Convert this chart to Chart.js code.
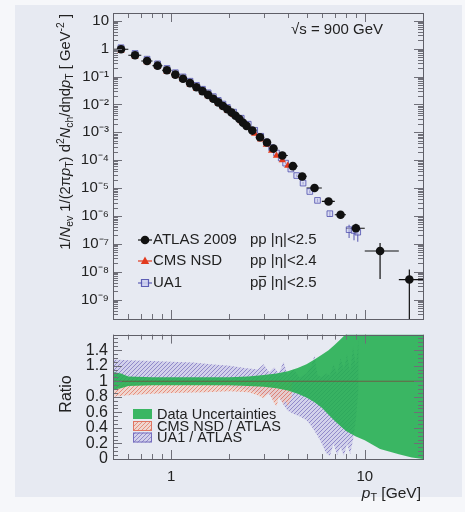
<!DOCTYPE html>
<html>
<head>
<meta charset="utf-8">
<script src="https://cdn.jsdelivr.net/npm/chart.js@4.4.1/dist/chart.umd.min.js"></script>
<style>
  html, body { margin: 0; padding: 0; background: #f6f7fa; }
  #panel { position: absolute; left: 15px; top: 5px; width: 447px; height: 492px; background: #e7eaf2; }
  canvas { position: absolute; left: 0; }
  #top { top: 0; }
  #bot { top: 320px; }
</style>
</head>
<body>
<div id="panel"></div>
<canvas id="top" width="465" height="332"></canvas>
<canvas id="bot" width="465" height="192"></canvas>
<script>
// ---- spectrum data (pT in GeV, 1/Nev dN/... in GeV^-2) ----
const atlasPt = [0.55, 0.65, 0.75, 0.85, 0.95, 1.05, 1.15, 1.25, 1.35, 1.45, 1.55, 1.65, 1.75, 1.85, 1.95, 2.05, 2.15, 2.25, 2.35, 2.45,
                 2.625, 2.875, 3.125, 3.375, 3.75, 4.25, 4.75, 5.5, 6.5, 7.5, 9, 12, 17];
const atlasEdges = [0.5, 0.6, 0.7, 0.8, 0.9, 1.0, 1.1, 1.2, 1.3, 1.4, 1.5, 1.6, 1.7, 1.8, 1.9, 2.0, 2.1, 2.2, 2.3, 2.4, 2.5,
                    2.75, 3, 3.25, 3.5, 4, 4.5, 5, 6, 7, 8, 10, 15, 20];
const atlasVal = [0.95, 0.58, 0.36, 0.245, 0.167, 0.117, 0.083, 0.058, 0.041, 0.030, 0.022, 0.0159, 0.0118, 0.0088, 0.0067, 0.0051, 0.0039, 0.0030, 0.0022, 0.0017,
                  0.00115, 6.6e-4, 4.3e-4, 2.6e-4, 1.47e-4, 6.1e-5, 2.6e-5, 1.0e-5, 3.3e-6, 1.1e-6, 3.6e-7, 5.5e-8, 5.2e-9];
const atlasErrUp = [0.06, 0.04, 0.04, 0.04, 0.04, 0.04, 0.04, 0.04, 0.04, 0.04, 0.04, 0.04, 0.04, 0.04, 0.04, 0.04, 0.04, 0.04, 0.04, 0.04,
                    0.05, 0.05, 0.05, 0.06, 0.07, 0.08, 0.1, 0.15, 0.2, 0.35, 0.45, 0.95, 1.3];
const atlasErrDn = [0.06, 0.04, 0.04, 0.04, 0.04, 0.04, 0.04, 0.04, 0.04, 0.04, 0.04, 0.04, 0.04, 0.04, 0.04, 0.04, 0.04, 0.04, 0.04, 0.04,
                    0.05, 0.05, 0.05, 0.06, 0.07, 0.08, 0.1, 0.15, 0.2, 0.3, 0.4, 0.9, 1.0];

const cmsPt = [0.55, 0.65, 0.75, 0.85, 0.95, 1.05, 1.15, 1.25, 1.35, 1.45, 1.55, 1.65, 1.75, 1.85, 1.95, 2.1, 2.3, 2.5, 2.7, 2.9, 3.1, 3.3, 3.5, 3.75, 4.0];
const cmsVal = [0.84, 0.52, 0.325, 0.222, 0.151, 0.106, 0.075, 0.052, 0.037, 0.027, 0.0198, 0.0144, 0.0107, 0.0080, 0.0061, 0.0042, 0.0025, 0.00148,
                8.9e-4, 5.5e-4, 3.6e-4, 2.2e-4, 1.45e-4, 1.0e-4, 6.3e-5];

const ua1Pt = [0.55, 0.65, 0.75, 0.85, 0.95, 1.05, 1.15, 1.25, 1.35, 1.45, 1.55, 1.65, 1.75, 1.85, 1.95, 2.1, 2.3, 2.5, 2.7, 2.9,
               3.1, 3.3, 3.5, 3.7, 3.9, 4.15, 4.45, 4.8, 5.2, 5.7, 6.6, 8.3, 8.8, 9.2];
const ua1Val = [1.08, 0.67, 0.42, 0.285, 0.195, 0.137, 0.097, 0.068, 0.048, 0.035, 0.026, 0.019, 0.0139, 0.0103, 0.0078, 0.0053, 0.0032, 0.00195, 0.00118, 7.2e-4,
                4.5e-4, 2.8e-4, 1.8e-4, 1.2e-4, 7.8e-5, 4.8e-5, 2.8e-5, 1.5e-5, 7.5e-6, 3.6e-6, 1.2e-6, 3.2e-7, 3.0e-7, 2.6e-7];
const ua1Err = [0.05, 0.05, 0.05, 0.05, 0.05, 0.05, 0.05, 0.05, 0.05, 0.05, 0.05, 0.05, 0.05, 0.05, 0.05, 0.05, 0.05, 0.05, 0.05, 0.05,
                0.06, 0.06, 0.07, 0.07, 0.08, 0.08, 0.1, 0.1, 0.12, 0.15, 0.2, 0.5, 0.55, 0.55];

// ---- ratio panel bands ----
const dataUncPt = [0.5, 0.55, 0.6, 0.8, 1, 1.5, 2, 2.5, 3, 3.5, 4, 4.5, 5, 5.5, 6, 6.5, 7, 7.5, 8, 9, 10, 12, 15, 17.5, 20];
const dataUncLo = [0.89, 0.91, 0.94, 0.95, 0.95, 0.95, 0.95, 0.94, 0.93, 0.91, 0.88, 0.84, 0.79, 0.73, 0.66, 0.57, 0.49, 0.42, 0.36, 0.29, 0.24, 0.13, 0.06, 0.02, 0];
const dataUncHi = [1.12, 1.10, 1.06, 1.05, 1.05, 1.05, 1.05, 1.06, 1.08, 1.10, 1.13, 1.17, 1.22, 1.28, 1.34, 1.40, 1.47, 1.54, 1.61, 1.75, 1.9, 2, 2, 2, 2];

const cmsRatioPt = [0.5, 0.6, 0.8, 1.0, 1.5, 2.0, 2.5, 2.8, 3.0, 3.2, 3.4, 3.5, 3.6, 3.8, 3.9, 4.0, 4.2];
const cmsRatioLo = [0.80, 0.82, 0.84, 0.85, 0.86, 0.87, 0.86, 0.82, 0.78, 0.85, 0.72, 0.68, 0.80, 0.70, 0.75, 0.68, 0.80];
const cmsRatioHi = [0.97, 0.97, 0.97, 0.97, 0.98, 0.99, 1.00, 1.00, 1.02, 1.00, 0.98, 0.95, 1.00, 0.97, 1.03, 0.98, 1.00];

const ua1RatioPt = [0.5, 0.6, 0.8, 1.0, 1.3, 1.6, 2.0, 2.4, 2.8, 3.0, 3.2, 3.4, 3.6, 3.8, 4.0, 4.3, 4.6, 5.0, 5.3, 5.5, 5.7, 6.0, 6.3, 6.6, 6.9, 7.2, 7.5, 7.8, 8.1, 8.4, 8.7, 9.0, 9.3];
const ua1RatioHi = [1.28, 1.27, 1.26, 1.25, 1.24, 1.22, 1.20, 1.17, 1.15, 1.22, 1.12, 1.18, 1.10, 1.25, 1.08, 1.15, 1.05, 1.10, 1.20, 1.33, 1.08, 1.05, 1.10, 1.08, 1.22, 1.10, 1.30, 1.15, 1.35, 1.12, 1.45, 1.20, 1.55];
const ua1RatioLo = [0.98, 0.98, 0.98, 0.97, 0.96, 0.95, 0.93, 0.90, 0.86, 0.82, 0.84, 0.75, 0.80, 0.70, 0.62, 0.58, 0.55, 0.50, 0.42, 0.36, 0.30, 0.20, 0.08, 0.04, 0.20, 0.05, 0.15, 0.04, 0.20, 0.06, 0.25, 0.50, 0.90];

const unityPt = [0.5, 20];
const unityVal = [1, 1];

// ---- axis labels ----
const yDecades = [10, 1, 1e-1, 1e-2, 1e-3, 1e-4, 1e-5, 1e-6, 1e-7, 1e-8, 1e-9];
const xLabelVals = [1, 10];
const ratioTicks = [0, 0.2, 0.4, 0.6, 0.8, 1, 1.2, 1.4];
const topLegendNames = ['ATLAS 2009', 'CMS NSD', 'UA1'];
const bandLegendNames = ['Data Uncertainties', 'CMS NSD / ATLAS', 'UA1 / ATLAS'];

const FONT = "'Liberation Sans', Arial, Helvetica, sans-serif";
const INK = '#222';
const GREEN = 'rgba(34,174,78,0.88)';

function hatch(bg, line) {
  const c = document.createElement('canvas');
  c.width = 4; c.height = 4;
  const g = c.getContext('2d');
  g.fillStyle = bg; g.fillRect(0, 0, 4, 4);
  g.strokeStyle = line; g.lineWidth = 1;
  g.beginPath();
  g.moveTo(0, 4); g.lineTo(4, 0);
  g.moveTo(-2, 2); g.lineTo(2, -2);
  g.moveTo(2, 6); g.lineTo(6, 2);
  g.stroke();
  return g.createPattern(c, 'repeat');
}
const salmonHatch = hatch('rgba(246,196,180,0.55)', 'rgba(226,118,96,0.75)');
const lavenderHatch = hatch('rgba(196,192,230,0.6)', 'rgba(118,108,188,0.7)');

const supMap = { '-': '\u207B', '0': '\u2070', '1': '\u00B9', '2': '\u00B2', '3': '\u00B3', '4': '\u2074', '5': '\u2075', '6': '\u2076', '7': '\u2077', '8': '\u2078', '9': '\u2079' };
function decLabel(v) {
  const e = Math.round(Math.log10(v));
  if (e === 0) return '1';
  if (e === 1) return '10';
  return '10' + String(e).split('').map(c => supMap[c]).join('');
}

// text with sub/superscripts; runs = [[text, kind]]
function drawRich(ctx, runs, x, y, size, align) {
  const fontFor = k => {
    const small = (k === 'sub' || k === 'sup' || k === 'isub');
    const it = (k === 'i' || k === 'isub') ? 'italic ' : '';
    return it + (small ? size * 0.7 : size) + 'px ' + FONT;
  };
  let w = 0;
  runs.forEach(([t, k]) => { ctx.font = fontFor(k); w += ctx.measureText(t).width; });
  let cx = align === 'right' ? x - w : align === 'center' ? x - w / 2 : x;
  runs.forEach(([t, k]) => {
    ctx.font = fontFor(k);
    const dy = k === 'sup' ? -size * 0.38 : (k === 'sub' || k === 'isub') ? size * 0.22 : 0;
    ctx.fillText(t, cx, y + dy);
    cx += ctx.measureText(t).width;
  });
  return w;
}

function logTickList(lo, hi) {
  const out = [];
  for (let e = Math.floor(Math.log10(lo)); e <= Math.ceil(Math.log10(hi)); e++) {
    for (let m = 1; m < 10; m++) {
      const v = m * Math.pow(10, e);
      if (v >= lo * 0.999 && v <= hi * 1.001) out.push([v, m === 1 ? 9 : 5]);
    }
  }
  return out;
}
const xTickList = logTickList(0.5, 20);

// inward ROOT-style ticks on all four sides plus the frame
function frameTicks(yTicks, drawTop, drawBottom) {
  return {
    id: 'frameTicks',
    afterDatasetsDraw(chart) {
      const { ctx, chartArea: a, scales: { x, y } } = chart;
      ctx.save();
      ctx.strokeStyle = '#6f6f78';
      ctx.lineWidth = 1;
      ctx.beginPath();
      xTickList.forEach(([v, len]) => {
        const p = Math.round(x.getPixelForValue(v)) + 0.5;
        if (drawBottom) { ctx.moveTo(p, a.bottom); ctx.lineTo(p, a.bottom - len); }
        if (drawTop) { ctx.moveTo(p, a.top); ctx.lineTo(p, a.top + len); }
      });
      yTicks.forEach(([v, len]) => {
        const p = Math.round(y.getPixelForValue(v)) + 0.5;
        if (p < a.top - 1 || p > a.bottom + 1) return;
        ctx.moveTo(a.left, p); ctx.lineTo(a.left + len, p);
        ctx.moveTo(a.right, p); ctx.lineTo(a.right - len, p);
      });
      ctx.stroke();
      ctx.strokeStyle = '#5f5f68';
      ctx.strokeRect(Math.round(a.left) + 0.5, Math.round(a.top) + 0.5, Math.round(a.right - a.left), Math.round(a.bottom - a.top));
      ctx.restore();
    }
  };
}

const errorBars = {
  id: 'errorBars',
  beforeDatasetsDraw(chart) {
    const { ctx, chartArea: a, scales: { x, y } } = chart;
    ctx.save();
    ctx.beginPath();
    ctx.rect(a.left, a.top, a.right - a.left, a.bottom - a.top);
    ctx.clip();
    chart.data.datasets.forEach(ds => {
      if (!ds.errUp) return;
      ctx.strokeStyle = ds.errColor;
      ctx.lineWidth = 1.2;
      ds.data.forEach((p, i) => {
        const px = x.getPixelForValue(p.x);
        const hi = p.y * (1 + ds.errUp[i]);
        const lo = Math.max(p.y * (1 - ds.errDn[i]), y.min);
        ctx.beginPath();
        ctx.moveTo(px, y.getPixelForValue(hi));
        ctx.lineTo(px, y.getPixelForValue(lo));
        if (ds.xEdges) {
          const py = y.getPixelForValue(p.y);
          ctx.moveTo(x.getPixelForValue(ds.xEdges[i]), py);
          ctx.lineTo(x.getPixelForValue(ds.xEdges[i + 1]), py);
        }
        ctx.stroke();
      });
    });
    ctx.restore();
  }
};

function marker(ctx, style, x, y) {
  ctx.save();
  ctx.lineWidth = 1.2;
  ctx.beginPath();
  ctx.moveTo(x - 7, y); ctx.lineTo(x + 7, y);
  ctx.strokeStyle = style === 'ua1' ? 'rgba(70,70,170,0.85)' : style === 'cms' ? '#e23a1e' : '#111';
  ctx.stroke();
  ctx.beginPath();
  if (style === 'atlas') {
    ctx.fillStyle = '#111';
    ctx.arc(x, y, 4.3, 0, Math.PI * 2); ctx.fill();
  } else if (style === 'cms') {
    ctx.fillStyle = '#e23a1e';
    ctx.moveTo(x, y - 4.5); ctx.lineTo(x + 4.2, y + 3); ctx.lineTo(x - 4.2, y + 3); ctx.closePath(); ctx.fill();
  } else {
    ctx.fillStyle = 'rgba(205,208,240,0.9)';
    ctx.rect(x - 3.5, y - 3.5, 7, 7); ctx.fill(); ctx.stroke();
  }
  ctx.restore();
}

const topText = {
  id: 'topText',
  afterDraw(chart) {
    const ctx = chart.ctx;
    ctx.save();
    ctx.fillStyle = INK;
    ctx.textBaseline = 'alphabetic';
    // y-axis title, rotated
    ctx.translate(70, 14);
    ctx.rotate(-Math.PI / 2);
    drawRich(ctx, [['1/', 'n'], ['N', 'i'], ['ev', 'sub'], [' 1/(2\u03C0', 'n'], ['p', 'i'], ['T', 'sub'], [') d', 'n'], ['2', 'sup'],
                   ['N', 'i'], ['ch', 'sub'], ['/d\u03B7d', 'n'], ['p', 'i'], ['T', 'sub'], [' [ GeV', 'n'], ['-2', 'sup'], [' ]', 'n']],
             0, 0, 14.8, 'right');
    ctx.restore();

    ctx.save();
    ctx.fillStyle = INK;
    ctx.font = '15px ' + FONT;
    ctx.textBaseline = 'middle';
    ctx.fillText('\u221As = 900 GeV', 291, 30);
    const rows = [240, 261, 283];
    const styles = ['atlas', 'cms', 'ua1'];
    rows.forEach((ry, i) => {
      marker(ctx, styles[i], 145, ry);
      ctx.fillStyle = INK;
      ctx.fillText(topLegendNames[i], 153, ry);
    });
    ctx.fillText('pp |\u03B7|<2.5', 250, rows[0]);
    ctx.fillText('pp |\u03B7|<2.4', 250, rows[1]);
    ctx.fillText('pp |\u03B7|<2.5', 250, rows[2]);
    // anti-proton bar over second p
    const pw = ctx.measureText('p').width;
    ctx.strokeStyle = INK;
    ctx.lineWidth = 1.1;
    ctx.beginPath();
    ctx.moveTo(250 + pw + 0.5, rows[2] - 6.5);
    ctx.lineTo(250 + 2 * pw - 0.5, rows[2] - 6.5);
    ctx.stroke();
    ctx.restore();
  }
};

const botText = {
  id: 'botText',
  afterDraw(chart) {
    const ctx = chart.ctx;
    const off = 320;
    ctx.save();
    ctx.fillStyle = INK;
    // Ratio title
    ctx.save();
    ctx.translate(71, 394 - off);
    ctx.rotate(-Math.PI / 2);
    ctx.font = '16px ' + FONT;
    ctx.textAlign = 'center';
    ctx.textBaseline = 'alphabetic';
    ctx.fillText('Ratio', 0, 0);
    ctx.restore();
    // x title
    ctx.textBaseline = 'alphabetic';
    drawRich(ctx, [['p', 'i'], ['T', 'sub'], [' [GeV]', 'n']], 421, 498 - off, 15.5, 'right');
    // band legend
    const rows = [414, 426, 437.5];
    const fills = [GREEN, salmonHatch, lavenderHatch];
    const edges = [null, 'rgba(222,110,90,0.9)', 'rgba(110,100,185,0.9)'];
    ctx.font = '14.5px ' + FONT;
    ctx.textBaseline = 'middle';
    rows.forEach((ry, i) => {
      const y0 = ry - off;
      ctx.fillStyle = fills[i];
      ctx.fillRect(133, y0 - 5, 19, 10);
      if (edges[i]) {
        ctx.strokeStyle = edges[i];
        ctx.lineWidth = 1;
        ctx.strokeRect(133.5, y0 - 4.5, 18, 9);
      }
      ctx.fillStyle = INK;
      ctx.fillText(bandLegendNames[i], 157, y0 + 0.5);
    });
    ctx.restore();
  }
};

const pts = (xs, ys) => xs.map((x, i) => ({ x, y: ys[i] }));

// ---- upper panel: spectra ----
new Chart(document.getElementById('top'), {
  type: 'scatter',
  data: {
    datasets: [
      { label: topLegendNames[0], data: pts(atlasPt, atlasVal), pointStyle: 'circle', pointRadius: 4.3,
        backgroundColor: '#111', borderColor: '#111', borderWidth: 0, order: 0,
        errUp: atlasErrUp, errDn: atlasErrDn, xEdges: atlasEdges, errColor: '#111' },
      { label: topLegendNames[1], data: pts(cmsPt, cmsVal), pointStyle: 'triangle', pointRadius: 4.2,
        backgroundColor: '#e23a1e', borderColor: '#e23a1e', borderWidth: 0, order: 1 },
      { label: topLegendNames[2], data: pts(ua1Pt, ua1Val), pointStyle: 'rect', pointRadius: 4,
        backgroundColor: 'rgba(205,208,240,0.55)', borderColor: 'rgba(70,70,170,0.75)', borderWidth: 1, order: 2,
        errUp: ua1Err, errDn: ua1Err, errColor: 'rgba(70,70,170,0.75)' }
    ]
  },
  options: {
    responsive: false,
    animation: false,
    layout: { padding: { left: 0, right: 42, top: 13, bottom: 4 } },
    plugins: { legend: { display: false }, tooltip: { enabled: false } },
    scales: {
      x: { type: 'logarithmic', min: 0.5, max: 20, display: false },
      y: {
        type: 'logarithmic', min: 2e-10, max: 19,
        afterFit: s => { s.width = 113; },
        afterBuildTicks: s => { s.ticks = yDecades.map(v => ({ value: v })); },
        grid: { display: false, drawTicks: false },
        border: { display: false },
        ticks: { font: { family: FONT, size: 15 }, color: INK, padding: 4, autoSkip: false, callback: v => decLabel(v) }
      }
    }
  },
  plugins: [errorBars, frameTicks(logTickList(2e-10, 19), true, true), topText]
});

// ---- lower panel: ratios ----
const line = (xs, ys, extra) => Object.assign({ data: pts(xs, ys), pointRadius: 0, borderWidth: 0, tension: 0, fill: false }, extra);
const minorRatio = [];
for (let k = 0; k <= 32; k++) minorRatio.push([k * 0.05, k % 4 === 0 ? 9 : 5]);

new Chart(document.getElementById('bot'), {
  type: 'line',
  data: {
    datasets: [
      line(unityPt, unityVal, { borderWidth: 1.2, borderColor: 'rgba(120,70,60,0.75)', order: 0 }),
      line(dataUncPt, dataUncLo, { order: 1 }),
      line(dataUncPt, dataUncHi, { order: 1, fill: { target: 1 }, backgroundColor: GREEN }),
      line(cmsRatioPt, cmsRatioLo, { order: 2 }),
      line(cmsRatioPt, cmsRatioHi, { order: 2, fill: { target: 3 }, backgroundColor: salmonHatch }),
      line(ua1RatioPt, ua1RatioLo, { order: 3 }),
      line(ua1RatioPt, ua1RatioHi, { order: 3, fill: { target: 5 }, backgroundColor: lavenderHatch })
    ]
  },
  options: {
    responsive: false,
    animation: false,
    layout: { padding: { left: 0, right: 42, top: 8, bottom: 0 } },
    plugins: { legend: { display: false }, tooltip: { enabled: false } },
    scales: {
      x: {
        type: 'logarithmic', min: 0.5, max: 20,
        afterFit: s => { s.height = 53; },
        afterBuildTicks: s => { s.ticks = xLabelVals.map(v => ({ value: v })); },
        grid: { display: false, drawTicks: false },
        border: { display: false },
        ticks: { font: { family: FONT, size: 15 }, color: INK, padding: 9, maxRotation: 0, autoSkip: false, callback: v => String(v) }
      },
      y: {
        type: 'linear', min: 0, max: 1.6,
        afterFit: s => { s.width = 113; },
        afterBuildTicks: s => { s.ticks = ratioTicks.map(v => ({ value: v })); },
        grid: { display: false, drawTicks: false },
        border: { display: false },
        ticks: { font: { family: FONT, size: 16 }, color: INK, padding: 5, autoSkip: false,
                 callback: v => (v === 0 || v === 1) ? String(v) : v.toFixed(1) }
      }
    }
  },
  plugins: [frameTicks(minorRatio, true, true), botText]
});
</script>
</body>
</html>
